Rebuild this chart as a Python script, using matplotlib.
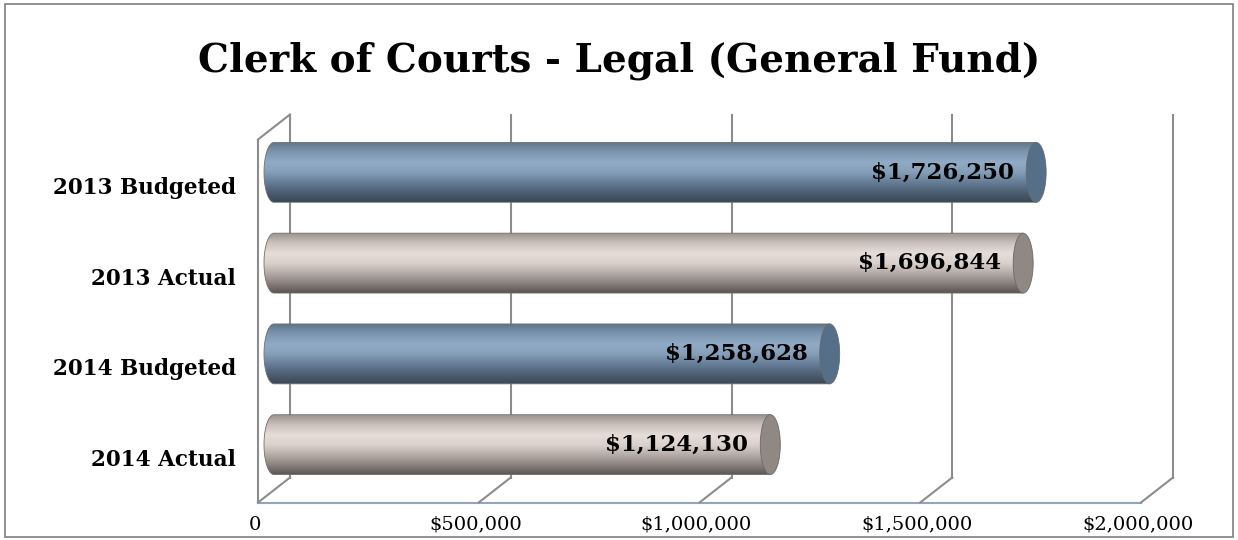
import numpy as np
import matplotlib.pyplot as plt
import matplotlib.transforms as mtransforms
from matplotlib.colors import LinearSegmentedColormap
from matplotlib.patches import Ellipse, PathPatch, Rectangle
from matplotlib.path import Path
from matplotlib.lines import Line2D

# Chart data
categories = ["2013 Budgeted", "2013 Actual", "2014 Budgeted", "2014 Actual"]
values = [1726250, 1696844, 1258628, 1124130]
kinds = ["budget", "actual", "budget", "actual"]
xticks = [0, 500000, 1000000, 1500000, 2000000]
xtick_labels = ["0", "$500,000", "$1,000,000", "$1,500,000", "$2,000,000"]
title = "Clerk of Courts - Legal (General Fund)"

# cylinder shading, top -> bottom
shades = {
    "budget": ["#5f758c", "#7d96b0", "#91abc6", "#869fb9", "#667e97", "#4d6074", "#3a4756"],
    "actual": ["#9c938e", "#cbc2bd", "#e6ddd8", "#dad1cc", "#b5aca7", "#8a827e", "#5a5350"],
}
caps = {"budget": "#566f88", "actual": "#8f8883"}

plt.rcParams['font.family'] = ['DejaVu Serif']

W, H, DPI = 1238, 540, 100
fig = plt.figure(figsize=(W / DPI, H / DPI), dpi=DPI)
ax = fig.add_axes([274 / W, 50 / H, 883 / W, 363 / H])
ax.set_xlim(0, 2000000)
ax.set_ylim(3.5, -0.5)
ax.axis('off')

# pseudo-3D depth: front plane and back wall offsets (pixels)
front = ax.transData + mtransforms.ScaledTranslation(-16 / DPI, -12.5 / DPI, fig.dpi_scale_trans)
back = ax.transData + mtransforms.ScaledTranslation(16 / DPI, 12.5 / DPI, fig.dpi_scale_trans)
grid_c = "#8c8c8c"


def link(p, t1, t2, **kw):
    # line between the same data point seen on two depth planes
    a = t1.transform(p)
    b = t2.transform(p)
    fig.add_artist(Line2D([a[0], b[0]], [a[1], b[1]], transform=None, **kw))


# side wall
ax.plot([0, 0], [-0.5, 3.5], color=grid_c, lw=1.5, transform=front, clip_on=False)
ax.plot([0, 0], [-0.5, 3.5], color=grid_c, lw=1.5, transform=back, clip_on=False)
link((0, -0.5), front, back, color=grid_c, lw=1.5)
link((0, 3.5), front, back, color=grid_c, lw=1.5)

# back wall gridlines + floor lines
for v in xticks[1:]:
    ax.plot([v, v], [-0.5, 3.5], color=grid_c, lw=1.5, transform=back, clip_on=False)
    link((v, 3.5), front, back, color=grid_c, lw=1.5)
ax.plot([0, 2000000], [3.5, 3.5], color="#8fa6bd", lw=1.5, transform=front, clip_on=False)

# cylinders
rx = 2000000 * 10 / 883  # cap half-width ~10 px
h = 0.66
grad = np.linspace(0, 1, 256).reshape(-1, 1)
for i, (v, k) in enumerate(zip(values, kinds)):
    cmap = LinearSegmentedColormap.from_list(k, shades[k])
    t = np.linspace(np.pi / 2, 3 * np.pi / 2, 40)
    xs = list(rx * np.cos(t)) + [v, v]
    ys = list(i - h / 2 * np.sin(t)) + [i + h / 2, i - h / 2]
    verts = list(zip(xs, ys)) + [(xs[0], ys[0])]
    body = Path(verts, [Path.MOVETO] + [Path.LINETO] * (len(verts) - 2) + [Path.CLOSEPOLY])
    clip = PathPatch(body, transform=ax.transData, facecolor='none', edgecolor='none')
    im = ax.imshow(grad, cmap=cmap, aspect='auto', origin='upper',
                   extent=(-rx, v, i + h / 2, i - h / 2), zorder=3)
    im.set_clip_path(clip)
    im.set_clip_box(fig.bbox)
    ax.add_patch(PathPatch(body, facecolor='none', edgecolor="#707070", lw=0.6, zorder=3.5,
                           clip_on=False))
    ax.add_patch(Ellipse((v, i), 2 * rx, h, facecolor=caps[k], edgecolor="#6a6a6a",
                         lw=0.6, zorder=4, clip_on=False))
    ax.annotate(f"${v:,}", (v, i), xytext=(-16, 0), textcoords='offset points',
                ha='right', va='center', fontsize=16.5, fontweight='bold', zorder=5)
ax.set_xlim(0, 2000000)
ax.set_ylim(3.5, -0.5)

# category labels (front plane)
lab_t = front + mtransforms.ScaledTranslation(-22 / DPI, -3 / DPI, fig.dpi_scale_trans)
for i, c in enumerate(categories):
    ax.text(0, i, c, transform=lab_t, ha='right', va='center', fontsize=15.5, fontweight='bold')

# value axis labels
tick_t = front + mtransforms.ScaledTranslation(-3 / DPI, -13 / DPI, fig.dpi_scale_trans)
for v, s in zip(xticks, xtick_labels):
    ax.text(v, 3.5, s, transform=tick_t, ha='center', va='top', fontsize=14)

fig.text(0.5, 1 - 61 / H, title, ha='center', va='center', fontsize=28, fontweight='bold')

# chart frame
fig.patches.append(Rectangle((5 / W, 3 / H), 1228 / W, 533 / H, transform=fig.transFigure,
                             fill=False, edgecolor="#7f7f7f", lw=1.2))

fig.savefig("out.png", dpi=DPI)
